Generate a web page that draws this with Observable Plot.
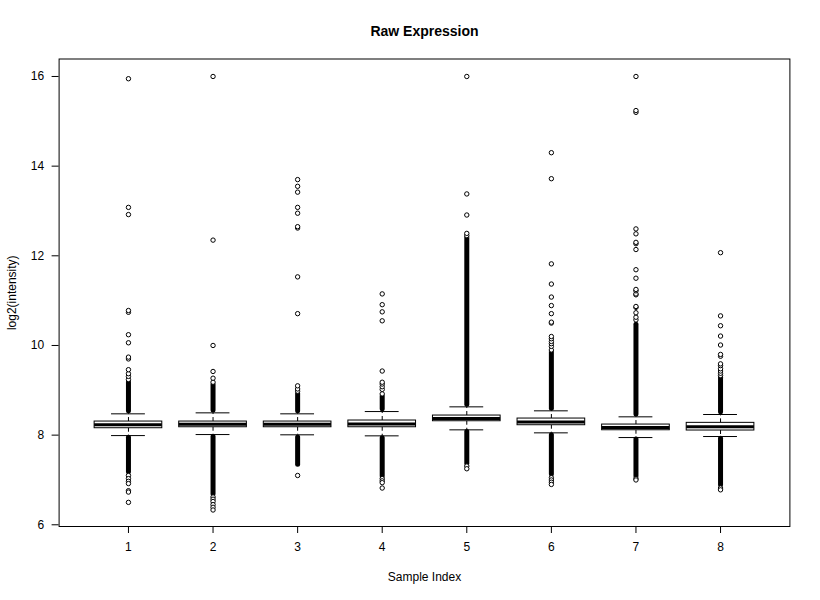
<!DOCTYPE html>
<html>
<head>
<meta charset="utf-8">
<script src="https://cdn.jsdelivr.net/npm/d3@7"></script>
<script src="https://cdn.jsdelivr.net/npm/@observablehq/plot@0.6"></script>
<style>
  body { margin: 0; background: #fff; }
  #chart svg { display: block; }
</style>
</head>
<body>
<div id="chart"></div>
<script>
// ---- data ----
const samples = [1, 2, 3, 4, 5, 6, 7, 8];
const q1      = [8.154, 8.176, 8.176, 8.176, 8.310, 8.221, 8.109, 8.103];
const medians = [8.230, 8.240, 8.240, 8.250, 8.372, 8.295, 8.172, 8.188];
const q3      = [8.303, 8.303, 8.303, 8.326, 8.437, 8.370, 8.236, 8.274];
const whiskLo = [7.990, 8.013, 8.007, 7.984, 8.118, 8.051, 7.946, 7.969];
const whiskHi = [8.475, 8.497, 8.475, 8.526, 8.631, 8.542, 8.408, 8.460];

// isolated outliers per sample
const outliers1 = [9.24, 9.31, 9.37, 9.46, 9.70, 9.74, 10.06, 10.24, 10.74, 10.78, 12.92, 13.08, 15.95,
                   7.10, 7.03, 6.97, 6.92, 6.76, 6.73, 6.50];
const outliers2 = [9.18, 9.27, 9.42, 10.00, 12.35, 16.00,
                   6.62, 6.57, 6.52, 6.45, 6.39, 6.33];
const outliers3 = [8.98, 9.03, 9.10, 10.71, 11.53, 12.62, 12.65, 12.95, 13.08, 13.42, 13.55, 13.70,
                   7.10];
const outliers4 = [8.92, 9.02, 9.08, 9.14, 9.18, 9.43, 10.55, 10.75, 10.91, 11.15,
                   7.03, 6.98, 6.94, 6.82];
const outliers5 = [12.45, 12.50, 12.91, 13.38, 16.00,
                   7.31, 7.25];
const outliers6 = [9.90, 9.98, 10.04, 10.09, 10.15, 10.20, 10.50, 10.52, 10.71, 10.89, 11.08, 11.37, 11.82, 13.72, 14.30,
                   7.05, 7.00, 6.95, 6.90];
const outliers7 = [10.57, 10.63, 10.73, 10.85, 10.87, 11.13, 11.15, 11.22, 11.25, 11.50, 11.69, 12.14, 12.27, 12.30, 12.49, 12.60, 15.20, 15.24, 16.00,
                   7.03, 7.00];
const outliers8 = [9.33, 9.38, 9.43, 9.48, 9.55, 9.59, 9.76, 9.80, 10.01, 10.21, 10.44, 10.66, 12.07,
                   6.82, 6.78];

// runs of overlapping outliers that print as solid columns: [low, high]
const dense1 = [[8.53, 9.18], [7.17, 7.94]];
const dense2 = [[8.55, 9.12], [6.68, 7.96]];
const dense3 = [[8.53, 8.92], [7.34, 7.95]];
const dense4 = [[8.58, 8.86], [7.08, 7.93]];
const dense5 = [[8.68, 12.40], [7.36, 8.07]];
const dense6 = [[8.59, 9.85], [7.12, 8.00]];
const dense7 = [[8.46, 10.46], [7.08, 7.90]];
const dense8 = [[8.51, 9.28], [6.88, 7.92]];

const yTicks = [6, 8, 10, 12, 14, 16];
const xTicks = samples;
const title = "Raw Expression";
const xLabel = "Sample Index";
const yLabel = "log2(intensity)";

// ---- build tables ----
const boxes = samples.map((s, i) => ({
  s, q1: q1[i], med: medians[i], q3: q3[i], lo: whiskLo[i], hi: whiskHi[i]
}));
const outlierLists = [outliers1, outliers2, outliers3, outliers4, outliers5, outliers6, outliers7, outliers8];
const denseLists = [dense1, dense2, dense3, dense4, dense5, dense6, dense7, dense8];
const points = outlierLists.flatMap((arr, i) => arr.map(v => ({s: samples[i], v})));
const runs = denseLists.flatMap((arr, i) => arr.map(([a, b]) => ({s: samples[i], a, b})));

const bw = 0.4, cap = 0.2;

const chart = Plot.plot({
  width: 820,
  height: 600,
  marginLeft: 58.6,
  marginRight: 30.6,
  marginTop: 58.5,
  marginBottom: 74,
  style: {fontFamily: "'Liberation Sans', Arial, sans-serif", fontSize: "12px", color: "black", background: "white"},
  x: {type: "linear", domain: [0.18, 8.82]},
  y: {domain: [5.962, 16.39]},
  marks: [
    // whisker dashed lines
    Plot.ruleX(boxes, {x: "s", y1: "q3", y2: "hi", stroke: "black", strokeDasharray: "4,3"}),
    Plot.ruleX(boxes, {x: "s", y1: "q1", y2: "lo", stroke: "black", strokeDasharray: "4,3"}),
    // staples
    Plot.ruleY(boxes, {y: "hi", x1: d => d.s - cap, x2: d => d.s + cap, stroke: "black"}),
    Plot.ruleY(boxes, {y: "lo", x1: d => d.s - cap, x2: d => d.s + cap, stroke: "black"}),
    // dense outlier columns
    Plot.ruleX(runs, {x: "s", y1: "a", y2: "b", stroke: "black", strokeWidth: 5, strokeLinecap: "round"}),
    // isolated outliers
    Plot.dot(points, {x: "s", y: "v", r: 2.2, stroke: "black", fill: "white", strokeWidth: 1}),
    // boxes
    Plot.rect(boxes, {x1: d => d.s - bw, x2: d => d.s + bw, y1: "q1", y2: "q3", fill: "white", stroke: "black", strokeWidth: 1}),
    Plot.ruleY(boxes, {y: "med", x1: d => d.s - bw, x2: d => d.s + bw, stroke: "black", strokeWidth: 3}),
    // axes
    Plot.axisY({ticks: yTicks, tickSize: 7, tickPadding: 8, label: null, fontSize: 12}),
    Plot.axisX({ticks: xTicks, tickSize: 7, tickPadding: 9, label: null, tickFormat: d => String(d), fontSize: 12}),
    Plot.frame({stroke: "black"}),
    // title & labels
    Plot.text([title], {frameAnchor: "top", lineAnchor: "middle", dy: -27.5, fontWeight: "bold", fontSize: 14, fill: "black"}),
    Plot.text([xLabel], {frameAnchor: "bottom", lineAnchor: "middle", dy: 51, fontSize: 12, fill: "black"}),
    Plot.text([yLabel], {frameAnchor: "left", textAnchor: "middle", lineAnchor: "middle", dx: -46.6, rotate: -90, fontSize: 12, fill: "black"})
  ]
});
document.getElementById("chart").appendChild(chart);
</script>
</body>
</html>
